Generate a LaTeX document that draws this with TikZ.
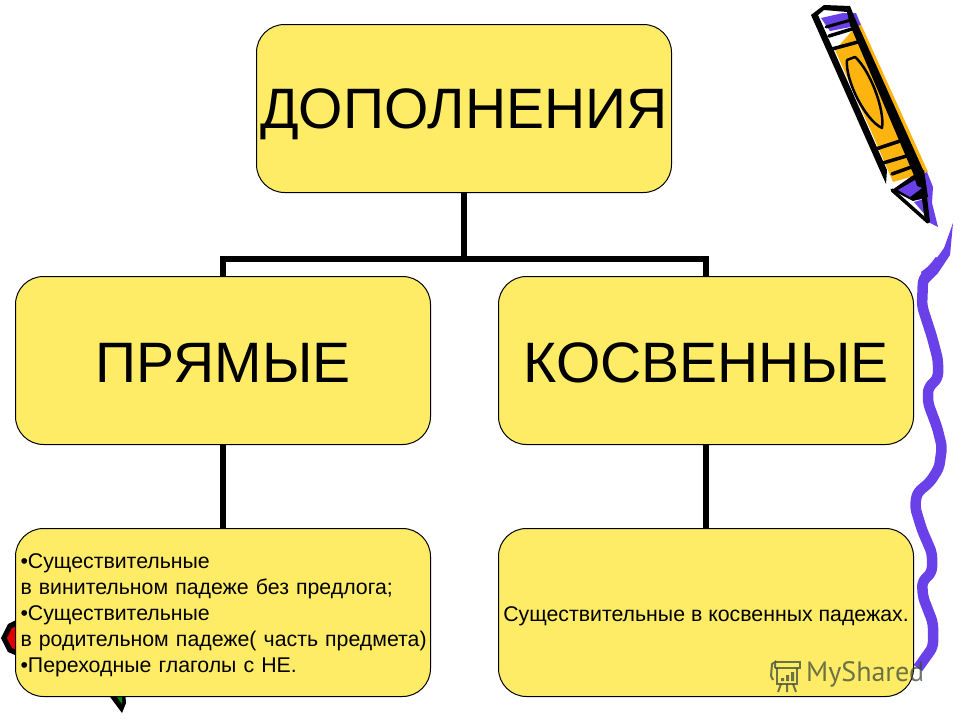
\documentclass[tikz,border=0pt]{standalone}
\usepackage{fontspec}
\setmainfont{Liberation Sans}
\newfontfamily\wmfont{PT Sans}
\newcommand{\lnpad}{\hspace*{2.5pt}}
\definecolor{boxy}{HTML}{FFEC66}
\definecolor{purp}{HTML}{6A41E8}
\definecolor{pencilo}{HTML}{FDB40F}
\definecolor{wm}{HTML}{3C4A3C}
\tikzset{
 box/.style={draw=black,line width=1pt,fill=boxy,rounded corners=28pt,minimum width=415pt,minimum height=168pt,inner sep=0pt,align=center,anchor=north west,text=black},
 big/.style={box,font=\fontsize{57}{62}\selectfont},
 small/.style={box,font=\fontsize{21.3}{26}\selectfont},
 conn/.style={draw=black,line width=6pt,line join=miter},
 ink/.style={draw=black,line cap=round,line join=round},
}
\begin{document}
\begin{tikzpicture}[x=1pt,y=-1pt]
\useasboundingbox (0,0) rectangle (960,720);
% clip-art behind the boxes
\fill[black] (20,618) -- (8,624) -- (1,638) -- (8,652) -- (22,658) -- (40,640) -- cycle;
\fill[red!90!black] (22,624) -- (12,628) -- (7,638) -- (12,648) -- (24,652) -- (40,640) -- cycle;
\fill[black] (105,690) -- (125,690) -- (126,703) -- (122,713) -- cycle;
\fill[green!55!black] (112,690) -- (122,690) -- (122,704) -- cycle;
% pencil: colour
\fill[pencilo] (835,50) -- (860,22) -- (928,172) -- (893,182) -- (878,147) -- cycle;
\fill[purp] (821,18) -- (843,13) -- (856,13) -- (861,25) -- (830,31) -- cycle;
\fill[purp] (893,190) -- (915,178) -- (927,172) -- (933,187) -- (932,203) -- (938,227) -- (928,222) -- (912,200) -- cycle;
\fill[white] (907,201) -- (924,199) -- (927,219) -- cycle;
\fill[purp] (914,202) -- (924,199) -- (927,217) -- cycle;
% pencil: ink
\fill[black] (811,15) -- (824,5) -- (850,6) -- (854,16) -- (924,172) -- (930,222) -- (925,221) -- (921,192) -- (850,25) -- (847,12) -- (824,10) -- (818,15) -- (887,170) -- (886,184) -- cycle;
\draw[ink,line width=3.5pt] (892,190) -- (928,222);
\fill[black] (892,190) -- (912,176) -- (924,170) -- (928,197) -- (913,201) -- cycle;
\fill[purp] (898,190) -- (915,180) -- (917,186) -- (922,188) -- (910,197) -- cycle;
\fill[purp] (822,19) -- (840,16) -- (846,19) -- (826,25) -- cycle;
\draw[ink,line width=3pt] (826,27) -- (851,20);
\draw[ink,line width=3.5pt] (829,36) -- (852,29);
\draw[ink,line width=3.5pt] (832,49) -- (858,42);
\draw[ink,line width=3.5pt] (876,149) -- (903,140);
\draw[ink,line width=3.5pt] (883,163) -- (910,155);
\draw[ink,line width=3.5pt] (892,174) -- (917,165);
\draw[ink,line width=2.5pt,fill=pencilo] (847,60) .. controls (845,80) and (865,120) .. (882,128) .. controls (885,110) and (870,70) .. (855,57) -- cycle;
% squiggle
\fill[purp] (953,223) -- (950,255) -- (938,273) -- (926,285) -- (921,272) -- (934,262) -- (944,248) -- cycle;
\draw[purp,line width=10.5pt,line join=round,rounded corners=5pt] (940,260) -- (934,268) -- (923,279) -- (922,306) -- (932,337) -- (938,360) -- (938,378) -- (928,388) -- (928,403) -- (937,427) -- (942,447) -- (939,468) -- (930,482) -- (917,493) -- (915,507) -- (922,530) -- (932,553) -- (932,572) -- (922,582) -- (923,597) -- (933,623) -- (933,647) -- (918,668);
% boxes
\node[big] (top) at (256,24) {\rule{0pt}{51pt}ДОПОЛНЕНИЯ};
\node[big] (pr) at (15,276) {\rule{0pt}{44pt}ПРЯМЫЕ};
\node[big] (ks) at (498,276) {\rule{0pt}{44pt}КОСВЕННЫЕ};
\node[small,align=left,text width=410pt,inner xsep=2.5pt] (prd) at (15,528) {\rule{0pt}{21pt}\lnpad •Существительные\\\lnpad в винительном падеже без предлога;\\\lnpad •Существительные\\\lnpad в родительном падеже( часть предмета)\\\lnpad •Переходные глаголы с НЕ.};
\node[small] (ksd) at (498,528) {\rule{0pt}{22pt}Существительные в косвенных падежах.};
% connectors
\coordinate (bus) at (top.south |- 0,259);
\draw[conn] (top.south) -- (bus);
\draw[conn] (pr.north) |- (bus);
\draw[conn] (ks.north) |- (bus);
\draw[conn] (pr.south) -- (prd.north);
\draw[conn] (ks.south) -- (ksd.north);
% watermark
\node[anchor=west,inner sep=0pt,text=wm,opacity=.75,font=\wmfont\fontsize{28}{32}\selectfont] (wmtext) at (806,674) {MyShared};
\begin{scope}[opacity=.75,draw=wm,line width=2pt]
\draw (775,662) -- (800,662) -- (800,668) -- (775,668);
\draw (775,668) -- (775,662) -- (772,664) -- (771,676) -- (773,680);
\draw (777,668) -- (777,684) -- (797,684) -- (797,668);
\draw (781,684) -- (778,692) (787,684) -- (787,692) (793,684) -- (796,692);
\fill[wm] (781,678) rectangle (784,681) (786,675) rectangle (789,681) (791,672) rectangle (794,681);
\end{scope}
\end{tikzpicture}
\end{document}
